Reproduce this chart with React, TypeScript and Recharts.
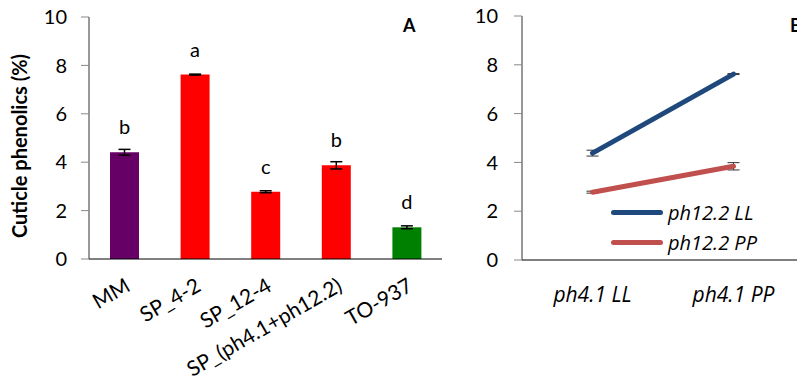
import React from "react";
import {
  BarChart,
  Bar,
  Cell,
  XAxis,
  YAxis,
  ErrorBar,
  LabelList,
  ComposedChart,
  Line,
  Legend,
} from "recharts";

const categories = ["MM", "SP_4-2", "SP_12-4", "SP_(ph4.1+ph12.2)", "TO-937"];
const values = [4.41, 7.62, 2.78, 3.87, 1.31];
const errors = [0.12, 0.02, 0.04, 0.15, 0.06];
const letters = ["b", "a", "c", "b", "d"];
const barColors = ["#660066", "#FF0000", "#FF0000", "#FF0000", "#008000"];
const yTicks = [0, 2, 4, 6, 8, 10];

const lineCategories = ["ph4.1 LL", "ph4.1 PP"];
const llValues = [4.38, 7.62];
const llErrors = [0.12, 0.02];
const ppValues = [2.78, 3.84];
const ppErrors = [0.04, 0.15];
const seriesNames = ["ph12.2 LL", "ph12.2 PP"];
const lineColors = ["#1F497D", "#C0504D"];

const FONT = "Lato, 'Open Sans', sans-serif";
const IFONT = "'Open Sans', 'Noto Sans', 'Liberation Sans', sans-serif";

const barData = categories.map((name, i) => ({
  name,
  value: values[i],
  err: errors[i],
  letter: letters[i],
}));

const lineData = lineCategories.map((name, i) => ({
  name,
  ll: llValues[i],
  llErr: llErrors[i],
  pp: ppValues[i],
  ppErr: ppErrors[i],
}));

const LegendContent = (props: any) => {
  const payload = props.payload || [];
  return (
    <div style={{ fontFamily: IFONT }}>
      {payload.map((p: any) => (
        <div
          key={p.value}
          style={{ display: "flex", alignItems: "center", height: 30 }}
        >
          <div
            style={{
              width: 52,
              height: 5,
              borderRadius: 3,
              background: p.color,
              marginRight: 5,
            }}
          />
          <span
            style={{
              fontStyle: "italic",
              fontWeight: 400,
              fontSize: 20,
              color: "#000",
            }}
          >
            {p.value}
          </span>
        </div>
      ))}
    </div>
  );
};

export default function App() {
  return (
    <div
      style={{
        position: "absolute",
        left: 0,
        top: 0,
        width: 797,
        height: 387,
        overflow: "hidden",
        background: "#fff",
        fontFamily: FONT,
      }}
    >
      <div style={{ position: "absolute", left: 0, top: 0 }}>
        <BarChart
          width={460}
          height={387}
          data={barData}
          margin={{ top: 17, right: 18, bottom: 68, left: 0 }}
          barCategoryGap={0}
        >
          <XAxis
            xAxisId="b"
            type="number"
            domain={[0, 5]}
            ticks={[0, 1, 2, 3, 4, 5]}
            allowDataOverflow
            tick={false}
            axisLine={false}
            tickLine={{ stroke: "#888", strokeWidth: 1 }}
            tickSize={8}
            height={0}
          />
          <XAxis
            dataKey="name"
            interval={0}
            tickLine={false}
            axisLine={{ stroke: "#000", strokeWidth: 1 }}
            angle={-30}
            textAnchor="end"
            tickMargin={12}
            height={60}
            tick={{ fontSize: 21, fill: "#000", fontFamily: FONT }}
          />
          <YAxis
            domain={[0, 10]}
            ticks={yTicks}
            width={89}
            tickSize={8}
            tickMargin={14}
            axisLine={{ stroke: "#333", strokeWidth: 1 }}
            tickLine={{ stroke: "#888" }}
            tick={{ fontSize: 20, fill: "#000", fontFamily: FONT }}
          />
          <Bar dataKey="value" barSize={29} isAnimationActive={false}>
            {barData.map((d, i) => (
              <Cell key={d.name} fill={barColors[i]} />
            ))}
            <ErrorBar
              dataKey="err"
              width={6}
              stroke="#000"
              strokeWidth={1.5}
              isAnimationActive={false}
            />
            <LabelList
              dataKey="letter"
              position="top"
              offset={18}
              style={{ fontSize: 20, fill: "#000", fontFamily: FONT }}
            />
          </Bar>
        </BarChart>
      </div>

      <div style={{ position: "absolute", left: 460, top: 0 }}>
        <ComposedChart
          width={360}
          height={387}
          data={lineData}
          margin={{ top: 16, right: 16, bottom: 67, left: 0 }}
        >
          <XAxis
            xAxisId="b"
            type="number"
            domain={[0, 2]}
            ticks={[0, 1, 2]}
            allowDataOverflow
            tick={false}
            axisLine={false}
            tickLine={{ stroke: "#888", strokeWidth: 1 }}
            tickSize={8}
            height={0}
          />
          <XAxis
            dataKey="name"
            scale="band"
            tickLine={false}
            axisLine={{ stroke: "#000", strokeWidth: 1 }}
            tickMargin={21}
            height={60}
            tick={{
              fontSize: 21,
              fill: "#000",
              fontFamily: IFONT,
              fontStyle: "italic",
              fontWeight: 400,
            }}
          />
          <YAxis
            domain={[0, 10]}
            ticks={yTicks}
            width={62}
            tickSize={8}
            tickMargin={16}
            axisLine={{ stroke: "#333", strokeWidth: 1 }}
            tickLine={{ stroke: "#888" }}
            tick={{ fontSize: 20, fill: "#000", fontFamily: FONT }}
          />
          <Legend
            layout="vertical"
            align="center"
            verticalAlign="middle"
            content={<LegendContent />}
            wrapperStyle={{ left: 151, top: 197, width: 200 }}
          />
          <Line
            dataKey="ll"
            name={seriesNames[0]}
            stroke={lineColors[0]}
            strokeWidth={5}
            strokeLinecap="round"
            dot={false}
            activeDot={false}
            isAnimationActive={false}
          >
            <ErrorBar
              dataKey="llErr"
              width={6}
              stroke="#333"
              strokeWidth={1}
              isAnimationActive={false}
            />
          </Line>
          <Line
            dataKey="pp"
            name={seriesNames[1]}
            stroke={lineColors[1]}
            strokeWidth={5}
            strokeLinecap="round"
            dot={false}
            activeDot={false}
            isAnimationActive={false}
          >
            <ErrorBar
              dataKey="ppErr"
              width={6}
              stroke="#333"
              strokeWidth={1}
              isAnimationActive={false}
            />
          </Line>
        </ComposedChart>
      </div>

      <svg
        width={797}
        height={387}
        style={{ position: "absolute", left: 0, top: 0, pointerEvents: "none" }}
      >
        <text
          transform="translate(27,146) rotate(-90)"
          textAnchor="middle"
          fontFamily={FONT}
          fontWeight="bold"
          fontSize={20}
          fill="#000"
        >
          Cuticle phenolics (%)
        </text>
        <text
          x={403}
          y={32}
          fontFamily={FONT}
          fontWeight="bold"
          fontSize={18}
          fill="#000"
        >
          A
        </text>
        <text
          x={790}
          y={32}
          fontFamily={FONT}
          fontWeight="bold"
          fontSize={18}
          fill="#000"
        >
          B
        </text>
      </svg>
    </div>
  );
}
